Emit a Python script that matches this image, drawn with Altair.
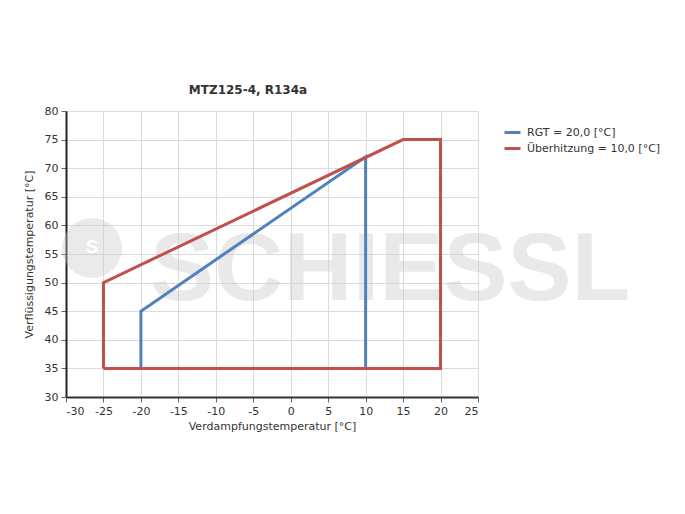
import altair as alt
import pandas as pd

# Data
series_names = ["RGT = 20,0 [°C]", "Überhitzung = 10,0 [°C]"]
blue_x = [-20, -20, 10, 10, -20]
blue_y = [35, 45, 72, 35, 35]
red_x = [-25, -25, 15, 20, 20, -25]
red_y = [35, 50, 75, 75, 35, 35]
colors = ["#4f81bd", "#c0504d"]
x_ticks = list(range(-30, 30, 5))
y_ticks = list(range(30, 85, 5))

rows = []
for i, (x, y) in enumerate(zip(blue_x, blue_y)):
    rows.append({"s": series_names[0], "x": x, "y": y, "o": i})
for i, (x, y) in enumerate(zip(red_x, red_y)):
    rows.append({"s": series_names[1], "x": x, "y": y, "o": i})
df = pd.DataFrame(rows)

FONT = "DejaVu Sans"

xscale = alt.Scale(domain=[-30, 25], nice=False, zero=False)
yscale = alt.Scale(domain=[30, 80], nice=False, zero=False)

lines = alt.Chart(df).mark_line(strokeWidth=3, strokeJoin="miter").encode(
    x=alt.X("x:Q", scale=xscale,
            axis=alt.Axis(title="Verdampfungstemperatur [°C]", values=x_ticks,
                          labelExpr="datum.value + ''",
                          grid=True, gridColor="#dcdcdc", domainColor="#333333",
                          domainWidth=2, tickColor="#666666", tickSize=5,
                          labelPadding=3, titlePadding=4)),
    y=alt.Y("y:Q", scale=yscale,
            axis=alt.Axis(title="Verflüssigungstemperatur [°C]", values=y_ticks,
                          labelExpr="datum.value + ''",
                          grid=True, gridColor="#dcdcdc", domainColor="#222222",
                          domainWidth=2, tickColor="#666666", tickSize=5,
                          labelPadding=3, titlePadding=10)),
    color=alt.Color("s:N", scale=alt.Scale(domain=series_names, range=colors),
                    legend=alt.Legend(title=None, orient="none", legendX=437, legendY=12,
                                      symbolType="stroke", symbolStrokeWidth=3,
                                      symbolSize=256, labelFontSize=11, labelFont=FONT,
                                      labelColor="#333333", rowPadding=0, labelOffset=5,
                                      padding=0)),
    order="o:Q",
    detail="s:N",
)

wm_text = alt.Chart(pd.DataFrame({"t": ["SCHIESSL"]})).mark_text(
    font="Liberation Sans", fontWeight="bold", fontSize=96, align="left",
    baseline="alphabetic", color="#c8c8c8", opacity=0.38
).encode(x=alt.value(84), y=alt.value(189), text="t:N")

wm_logo = alt.Chart(pd.DataFrame({"a": [1]})).mark_point(
    shape="circle", filled=True, color="#c8c8c8", opacity=0.38, size=3600
).encode(x=alt.value(26), y=alt.value(137))

wm_s = alt.Chart(pd.DataFrame({"t": ["S"]})).mark_text(
    font="Liberation Sans", fontWeight="bold", fontSize=18, color="white"
).encode(x=alt.value(26), y=alt.value(137), text="t:N")

chart = alt.layer(wm_logo, wm_s, wm_text, lines).properties(
    width=412, height=286,
    title=alt.TitleParams("MTZ125-4, R134a", font=FONT, fontSize=12, fontWeight="bold",
                          color="#333333", anchor="middle", dx=-24, offset=8),
    autosize=alt.AutoSizeParams(type="none"),
    padding={"left": 58, "top": 103, "right": 199, "bottom": 109},
).configure_view(stroke=None).configure_axis(
    labelFont=FONT, titleFont=FONT, labelFontSize=11, titleFontSize=11,
    labelColor="#333333", titleColor="#333333", titleFontWeight="normal"
)

chart.save("out.html", embed_options={"renderer": "svg", "actions": False})
